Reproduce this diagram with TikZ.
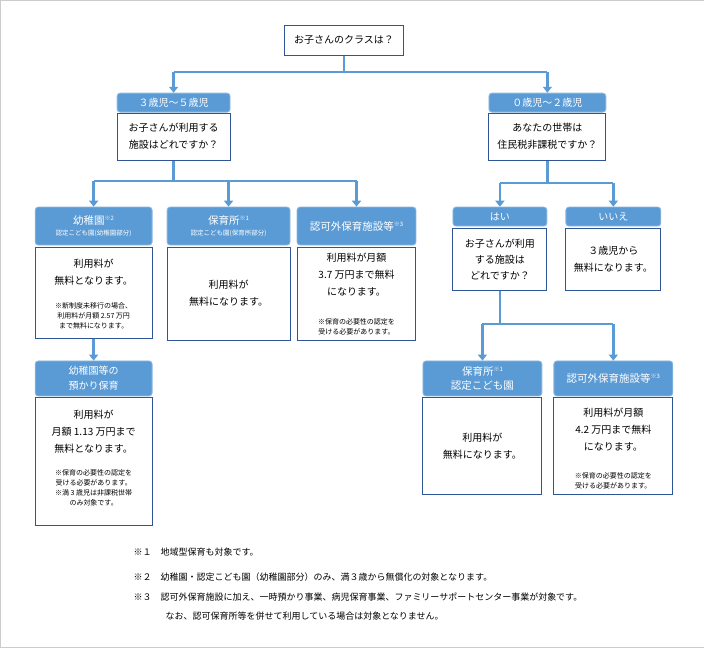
\documentclass[tikz,border=0pt]{standalone}
\usepackage{fontspec}
\setmainfont{Noto Sans CJK JP}
\usetikzlibrary{arrows.meta}
\definecolor{hd}{HTML}{5B9BD5}
\definecolor{bd}{HTML}{2F5597}
\tikzset{
 hdr/.style={fill=hd,draw=hd!70!white,rounded corners=3pt,line width=0.8pt,text=white,align=center,font=\fontsize{10.5}{15}\selectfont},
 bx/.style={draw=bd,fill=white,line width=1pt,align=center,font=\fontsize{10.5}{17}\selectfont},
 con/.style={draw=hd,line width=2.4pt},
 arr/.style={con,-{Triangle[length=6pt,width=9pt]}},
 sm/.style={font=\fontsize{7}{10}\selectfont},
 fn/.style={anchor=west,font=\fontsize{9}{12}\selectfont}
}
\newcommand{\sq}[1]{\raisebox{4pt}{\fontsize{6}{6}\selectfont ※#1}}
\begin{document}
\begin{tikzpicture}[x=1pt,y=-1pt]
\draw[gray!40,fill=white] (0,0) rectangle (704,647);
\newcommand{\bbox}[6]{\node[#6,minimum width=#3-#1,minimum height=#4-#2,inner sep=0pt] (#5) at ({(#1+#3)/2},{(#2+#4)/2}) {};}
\bbox{284}{25}{404}{55}{top}{bx}
\node[font=\fontsize{10}{12}\selectfont] at (top) {お子さんのクラスは？};
\bbox{117}{93}{230}{112}{h35}{hdr}
\node[text=white,font=\fontsize{10}{12}\selectfont] at (h35) {３歳児～５歳児};
\bbox{117}{113}{230}{160}{b35}{bx}
\node[align=center,font=\fontsize{10}{17}\selectfont] at (b35) {お子さんが利用する\\施設はどれですか？};
\bbox{489}{93}{606}{112}{h02}{hdr}
\node[text=white,font=\fontsize{10}{12}\selectfont] at (h02) {０歳児～２歳児};
\bbox{489}{113}{606}{160}{b02}{bx}
\node[align=center,font=\fontsize{10}{17}\selectfont] at (b02) {あなたの世帯は\\住民税非課税ですか？};
% top connectors
\coordinate (t1) at (top.south |- 0,72);
\draw[con] (top.south) -- (t1);
\draw[con] (h35.north |- t1) -- (h02.north |- t1);
\draw[arr] (h35.north |- t1) -- (h35.north);
\draw[arr] (h02.north |- t1) -- (h02.north);
% left tier
\bbox{35}{207}{152}{245}{hk}{hdr}
\bbox{167}{207}{290}{245}{hh}{hdr}
\bbox{297}{207}{416}{245}{hn}{hdr}
\coordinate (l1) at (b35.south |- 0,181);
\draw[con] (b35.south) -- (l1);
\draw[con] (hk.north |- l1) -- (hn.north |- l1);
\draw[arr] (hk.north |- l1) -- (hk.north);
\draw[arr] (hh.north |- l1) -- (hh.north);
\draw[arr] (hn.north |- l1) -- (hn.north);
\node[text=white,align=center] at (hk) {\fontsize{10.5}{13}\selectfont 幼稚園\sq{2}\\[-1pt]\fontsize{6.5}{8}\selectfont 認定こども園(幼稚園部分)};
\node[text=white,align=center] at (hh) {\fontsize{10.5}{13}\selectfont 保育所\sq{1}\\[-1pt]\fontsize{6.5}{8}\selectfont 認定こども園(保育所部分)};
\node[text=white] at (hn) {\fontsize{10.5}{13}\selectfont 認可外保育施設等\sq{3}};
\bbox{35}{247}{152}{338}{bk}{bx}
\bbox{167}{247}{290}{340}{bh}{bx}
\bbox{297}{247}{416}{340}{bn}{bx}
\node[align=center,font=\fontsize{10}{17}\selectfont] at (93.5,272) {利用料が\\無料となります。};
\node[align=center,sm] at (93.5,316) {※新制度未移行の場合、\\利用料が月額 2.57 万円\\まで無料になります。};
\node[align=center,font=\fontsize{10}{17}\selectfont] at (bh) {利用料が\\無料になります。};
\node[align=center,font=\fontsize{10}{17}\selectfont] at (356.5,275) {利用料が月額\\3.7 万円まで無料\\になります。};
\node[align=center,sm] at (356.5,327) {※保育の必要性の認定を\\受ける必要があります。};
% azukari
\bbox{35}{361}{152}{396}{ha}{hdr}
\node[text=white,align=center,font=\fontsize{10}{15}\selectfont] at (ha) {幼稚園等の\\預かり保育};
\draw[arr] (bk.south) -- (ha.north);
\bbox{35}{398}{152}{526}{ba}{bx}
\node[align=center,font=\fontsize{10}{17}\selectfont] at (93.5,432) {利用料が\\月額 1.13 万円まで\\無料となります。};
\node[align=center,sm] at (93.5,488) {※保育の必要性の認定を\\受ける必要があります。\\※満 3 歳児は非課税世帯\\のみ対象です。};
% right tier
\bbox{453}{207}{547}{226}{hy}{hdr}
\bbox{566}{207}{661}{226}{hn2}{hdr}
\coordinate (r1) at (b02.south |- 0,183);
\draw[con] (b02.south) -- (r1);
\draw[con] (hy.north |- r1) -- (hn2.north |- r1);
\draw[arr] (hy.north |- r1) -- (hy.north);
\draw[arr] (hn2.north |- r1) -- (hn2.north);
\node[text=white,font=\fontsize{10}{12}\selectfont] at (hy) {はい};
\node[text=white,font=\fontsize{10}{12}\selectfont] at (hn2) {いいえ};
\bbox{453}{228}{547}{290}{by}{bx}
\bbox{566}{228}{661}{290}{bn2}{bx}
\node[align=center,font=\fontsize{10}{16}\selectfont] at (by) {お子さんが利用\\する施設は\\どれですか？};
\node[align=center,font=\fontsize{10}{17}\selectfont] at (bn2) {３歳児から\\無料になります。};
\bbox{423}{361}{542}{396}{hh2}{hdr}
\bbox{554}{361}{673}{396}{hn3}{hdr}
\coordinate (r2) at (by.south |- 0,324);
\draw[con] (by.south) -- (r2);
\draw[con] (hh2.north |- r2) -- (hn3.north |- r2);
\draw[arr] (hh2.north |- r2) -- (hh2.north);
\draw[arr] (hn3.north |- r2) -- (hn3.north);
\node[text=white,align=center,font=\fontsize{10.5}{14}\selectfont] at (hh2) {保育所\sq{1}\\認定こども園};
\node[text=white] at (hn3) {\fontsize{10.5}{13}\selectfont 認可外保育施設等\sq{3}};
\bbox{423}{398}{542}{495}{bh2}{bx}
\bbox{554}{398}{673}{495}{bn3}{bx}
\node[align=center,font=\fontsize{10}{17}\selectfont] at (bh2) {利用料が\\無料になります。};
\node[align=center,font=\fontsize{10}{17}\selectfont] at (613.5,430) {利用料が月額\\4.2 万円まで無料\\になります。};
\node[align=center,sm] at (613.5,481) {※保育の必要性の認定を\\受ける必要があります。};
% footnotes
\node[fn] at (130,552) {※１\quad 地域型保育も対象です。};
\node[fn] at (130,577) {※２\quad 幼稚園・認定こども園（幼稚園部分）のみ、満３歳から無償化の対象となります。};
\node[fn] at (130,597) {※３\quad 認可外保育施設に加え、一時預かり事業、病児保育事業、ファミリーサポートセンター事業が対象です。};
\node[fn] at (162,616) {なお、認可保育所等を併せて利用している場合は対象となりません。};
\end{tikzpicture}
\end{document}
